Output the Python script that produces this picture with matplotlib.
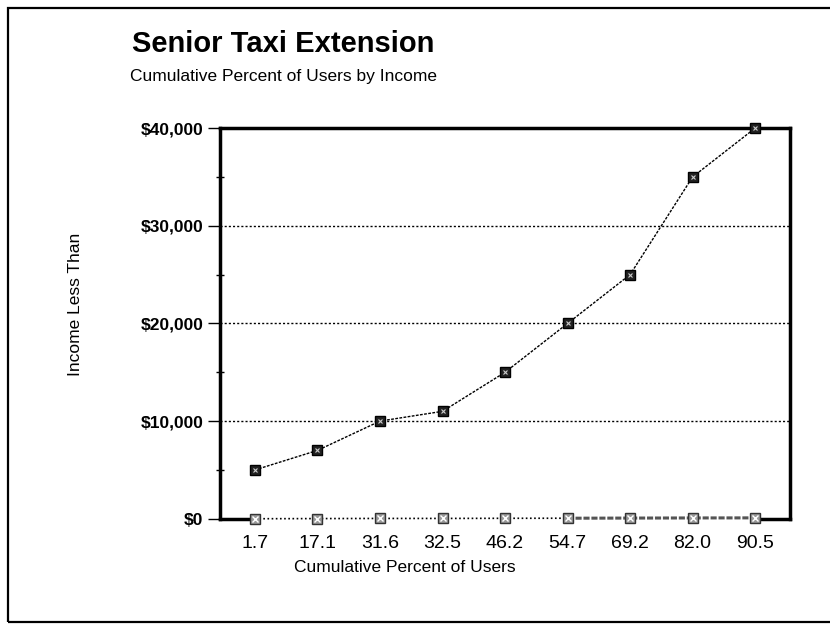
import matplotlib
matplotlib.use('Agg')
import matplotlib.pyplot as plt
from matplotlib.patches import Rectangle

# Dados
pct_usuarios = ['1.7', '17.1', '31.6', '32.5', '46.2', '54.7', '69.2', '82.0', '90.5']
renda_menor = [5000, 7000, 10000, 11000, 15000, 20000, 25000, 35000, 40000]
serie_base = [1.7, 17.1, 31.6, 32.5, 46.2, 54.7, 69.2, 82.0, 90.5]
y_ticks = [0, 10000, 20000, 30000, 40000]
y_labels = ['$0', '$10,000', '$20,000', '$30,000', '$40,000']

plt.rcParams['font.family'] = ['Liberation Sans', 'DejaVu Sans']

fig = plt.figure(figsize=(8.3, 6.25), dpi=100)
ax = fig.add_axes([0.265, 0.170, 0.687, 0.625])

# moldura externa
fig.patches.append(Rectangle((0.010, 0.005), 1.2, 0.982, transform=fig.transFigure,
                             fill=False, lw=1.6, ec='black'))

x = list(range(len(pct_usuarios)))

# linhas de grade pontilhadas
for v in y_ticks[1:-1]:
    ax.axhline(v, color='black', lw=1.0, ls=(0, (1.5, 1.5)), zorder=1)

# série principal
ax.plot(x, renda_menor, color='black', lw=1.0, ls=(0, (2, 1)), zorder=3)
ax.plot(x, renda_menor, ls='none', marker='s', ms=7.5, mfc='#222222', mec='black',
        zorder=4, clip_on=False)
ax.plot(x, renda_menor, ls='none', marker='x', ms=3.5, mec='#cccccc', mew=0.8,
        zorder=5, clip_on=False)

# série de base (praticamente zero)
ax.plot(x[:6], serie_base[:6], color='black', lw=1.2, ls=(0, (1, 1.5)), zorder=3,
        clip_on=False)
ax.plot(x[5:], serie_base[5:], color='#555555', lw=2.2, ls=(0, (2, 0.6)), zorder=3,
        clip_on=False)
ax.plot(x, serie_base, ls='none', marker='s', ms=7, mfc='#999999', mec='#333333',
        zorder=4, clip_on=False)
ax.plot(x, serie_base, ls='none', marker='x', ms=5, mec='white', mew=1.0,
        zorder=5, clip_on=False)

ax.set_xlim(-0.56, len(x) - 0.44)
ax.set_ylim(0, 40000)

for lado in ['left', 'top', 'right']:
    ax.spines[lado].set_linewidth(2.5)
ax.spines['bottom'].set_visible(False)
# trechos grossos do eixo inferior nas pontas
ax.plot([-0.56, 0], [0, 0], color='black', lw=2.5, zorder=2, clip_on=False)
ax.plot([8, len(x) - 0.44], [0, 0], color='black', lw=2.5, zorder=2, clip_on=False)

ax.set_yticks(y_ticks)
ax.set_yticklabels(y_labels, fontsize=12.5, fontweight='bold')
ax.set_yticks([5000, 15000, 25000, 35000], minor=True)
ax.tick_params(axis='y', which='major', length=9, width=1, direction='out', pad=3)
ax.tick_params(axis='y', which='minor', length=6, width=1, direction='inout')

ax.set_xticks(x)
ax.set_xticklabels(pct_usuarios, fontsize=14)
ax.tick_params(axis='x', length=0, pad=12)

ax.set_xlabel('Cumulative Percent of Users', fontsize=12.5)
ax.xaxis.set_label_coords(0.325, -0.105)
ax.set_ylabel('Income Less Than', fontsize=12.5)
ax.yaxis.set_label_coords(-0.24, 0.55)

fig.text(0.341, 0.930, 'Senior Taxi Extension', fontsize=21, fontweight='bold',
         ha='center', va='center')
fig.text(0.341, 0.878, 'Cumulative Percent of Users by Income', fontsize=12.5,
         ha='center', va='center')

plt.savefig('out.png', dpi=100)
plt.close()
